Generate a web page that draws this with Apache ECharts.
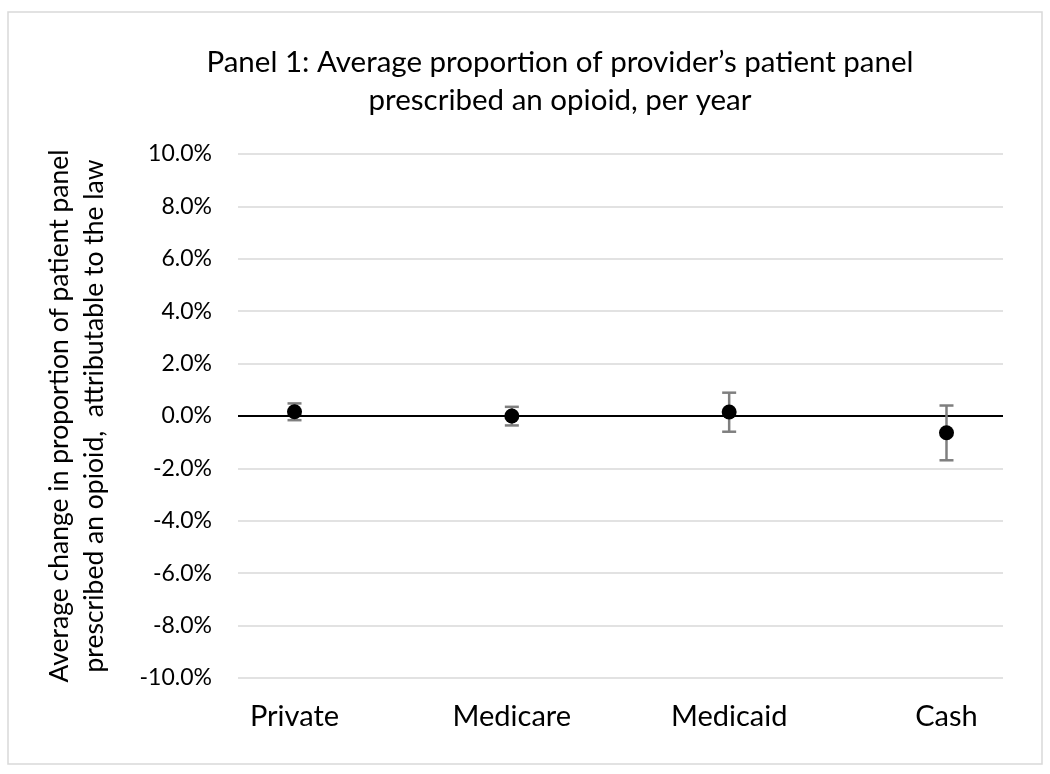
<!DOCTYPE html>
<html>
<head>
<meta charset="utf-8">
<script src="https://cdn.jsdelivr.net/npm/echarts@6/dist/echarts.min.js"></script>
<style>
  html, body { margin: 0; padding: 0; background: #fff; }
  #main { width: 1050px; height: 774px; }
</style>
</head>
<body>
<div id="main"></div>
<script>
// categories and values (percentage points)
var categories = ['Private', 'Medicare', 'Medicaid', 'Cash'];
var estimates = [0.16, 0.0, 0.15, -0.64];
var lower = [-0.16, -0.36, -0.60, -1.69];
var upper = [0.48, 0.35, 0.89, 0.40];
var yMin = -10, yMax = 10, yStep = 2;

var chart = echarts.init(document.getElementById('main'));

// category index -> x position 1..n
var points = categories.map(function (c, i) { return [i + 1, estimates[i]]; });
var bars = categories.map(function (c, i) { return [i + 1, lower[i], upper[i]]; });

var font = 'Lato, "Open Sans", sans-serif';

var option = {
  animation: false,
  backgroundColor: '#fff',
  title: {
    text: 'Panel 1: Average proportion of provider\u2019s patient panel\nprescribed an opioid, per year',
    left: 555,
    top: 38,
    textAlign: 'center',
    textStyle: { fontFamily: font, fontWeight: 'normal', fontSize: 29.5, color: '#000', lineHeight: 38 }
  },
  graphic: [{
    type: 'rect',
    shape: { x: 8, y: 12, width: 1034, height: 752 },
    style: { fill: 'none', stroke: '#d9d9d9', lineWidth: 1.5 },
    silent: true
  }],
  grid: { left: 238, right: 47, top: 154, bottom: 96 },
  xAxis: {
    type: 'value',
    min: 0.74,
    max: categories.length + 0.26,
    axisLine: { show: false },
    axisTick: { show: false },
    splitLine: { show: false },
    axisLabel: {
      customValues: categories.map(function (c, i) { return i + 1; }),
      formatter: function (v) { return categories[Math.round(v) - 1] || ''; },
      fontFamily: font, fontSize: 29, color: '#000', margin: 24
    }
  },
  yAxis: {
    type: 'value',
    min: yMin,
    max: yMax,
    interval: yStep,
    name: 'Average change in proportion of patient panel\nprescribed an opioid,  attributable to the law',
    nameLocation: 'middle',
    nameGap: 126,
    nameTextStyle: { fontFamily: font, fontSize: 26.5, color: '#000', lineHeight: 35 },
    axisLine: { show: false },
    axisTick: { show: false },
    splitLine: { lineStyle: { color: '#d9d9d9', width: 1.5 } },
    axisLabel: {
      formatter: function (v) { return v.toFixed(1) + '%'; },
      fontFamily: font, fontSize: 23, color: '#000', margin: 26
    }
  },
  series: [
    {
      type: 'custom',
      data: bars,
      z: 3,
      renderItem: function (params, api) {
        var x = api.value(0);
        var lo = api.coord([x, api.value(1)]);
        var hi = api.coord([x, api.value(2)]);
        var cap = 7;
        var st = { stroke: '#7f7f7f', lineWidth: 2.5 };
        return {
          type: 'group',
          children: [
            { type: 'line', shape: { x1: lo[0], y1: lo[1], x2: hi[0], y2: hi[1] }, style: st },
            { type: 'line', shape: { x1: hi[0] - cap, y1: hi[1], x2: hi[0] + cap, y2: hi[1] }, style: st },
            { type: 'line', shape: { x1: lo[0] - cap, y1: lo[1], x2: lo[0] + cap, y2: lo[1] }, style: st }
          ]
        };
      }
    },
    {
      type: 'scatter',
      data: points,
      symbol: 'circle',
      symbolSize: 15,
      z: 4,
      itemStyle: { color: '#000', opacity: 1 },
      markLine: {
        silent: true,
        symbol: 'none',
        label: { show: false },
        lineStyle: { color: '#000', width: 2, type: 'solid', opacity: 1 },
        data: [{ yAxis: 0 }],
        z: 2
      }
    }
  ]
};

chart.setOption(option);
</script>
</body>
</html>
